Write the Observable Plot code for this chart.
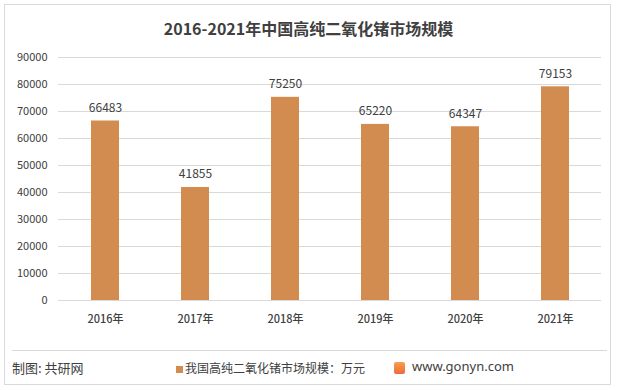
<!DOCTYPE html>
<html><head><meta charset="utf-8">
<script src="https://cdn.jsdelivr.net/npm/d3@7"></script>
<script src="https://cdn.jsdelivr.net/npm/@observablehq/plot@0.6"></script>
<style>
body{margin:0;background:#fff;font-family:"Noto Sans CJK SC","Noto Sans",sans-serif;}
#wrap{position:relative;width:617px;height:390px;overflow:hidden;}
#frame{position:absolute;left:4px;top:4px;width:607px;height:381px;border:1px solid #d9d9d9;box-sizing:border-box;}
#title{position:absolute;left:0;width:617px;top:16px;text-align:center;font-size:16px;font-weight:bold;color:#404040;}
#sep{position:absolute;left:12px;width:595px;top:350px;border-top:1px solid #d9d9d9;}
.foot{position:absolute;top:359px;font-size:12px;color:#404040;}
#sq{position:absolute;left:176px;top:366px;width:7px;height:7px;background:#D38C4F;}
#logo{position:absolute;left:394px;top:362px;width:11px;height:12px;background:linear-gradient(#f6a04d,#ee6a3a);border-radius:2px;}
#plot{position:absolute;left:0;top:0;}
#plot svg g[aria-label="x-axis tick label"] text{font-weight:500;}
</style></head><body>
<div id="wrap">
<div id="plot"></div>
<div id="frame"></div>
<div id="title">2016-2021年中国高纯二氧化锗市场规模</div>
<div id="sep"></div>
<div class="foot" style="left:12px;font-size:13px;top:358px;">制图: 共研网</div>
<div id="sq"></div>
<div class="foot" style="left:185px;">我国高纯二氧化锗市场规模：万元</div>
<div id="logo"></div>
<div class="foot" style="left:412px;font-family:'Noto Sans',sans-serif;font-size:13px;top:357px;">www.gonyn.com</div>
</div>
<script>
const years = ["2016年","2017年","2018年","2019年","2020年","2021年"];
const values = [66483, 41855, 75250, 65220, 64347, 79153];
const yTicks = [0,10000,20000,30000,40000,50000,60000,70000,80000,90000];
const data = years.map((y,i)=>({year:y, value:values[i]}));
const chart = Plot.plot({
  width:617, height:390,
  marginLeft:58, marginRight:16, marginTop:57, marginBottom:90,
  style:{fontFamily:'"Noto Sans CJK SC","Noto Sans",sans-serif', fontSize:"11px", color:"#404040", background:"transparent"},
  x:{domain:years, paddingInner:0.69, paddingOuter:0.345, label:null, tickSize:0, tickPadding:15},
  y:{domain:[0,90000], ticks:yTicks, label:null, tickSize:0, tickPadding:11, tickFormat:d=>String(d)},
  marks:[
    Plot.gridY(yTicks,{stroke:"#d9d9d9", strokeOpacity:1}),
    Plot.barY(data,{x:"year", y:"value", fill:"#D38C4F"}),
    Plot.text(data,{x:"year", y:"value", text:d=>String(d.value), dy:-13, fill:"#404040", fontSize:12})
  ]
});
document.getElementById("plot").appendChild(chart);
</script>
</body></html>
